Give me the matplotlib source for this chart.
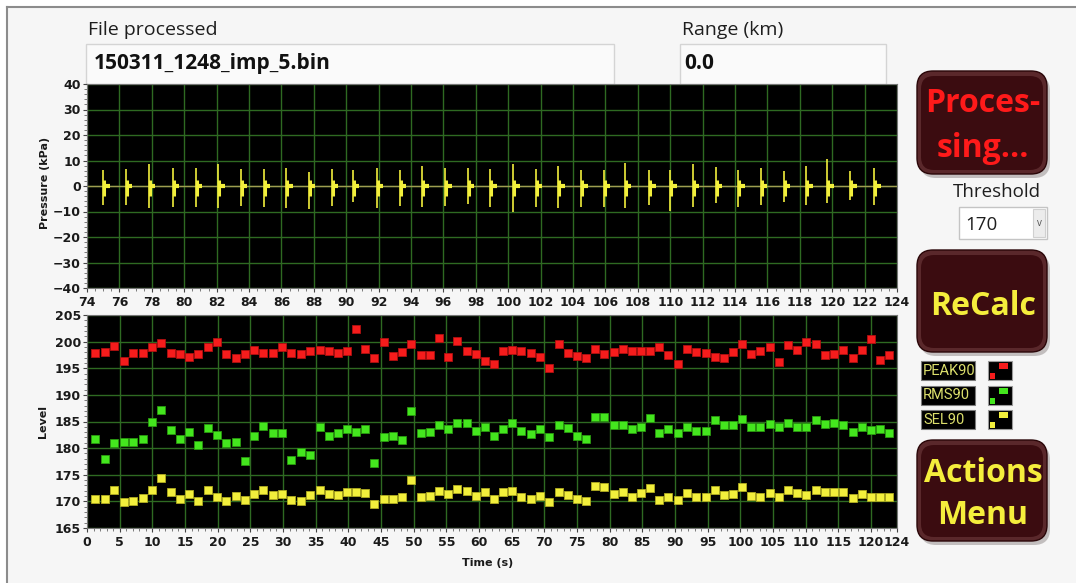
import matplotlib
matplotlib.use('Agg')
import matplotlib.pyplot as plt
from matplotlib.patches import FancyBboxPatch, Rectangle
from matplotlib.ticker import MultipleLocator, FixedLocator

# waveform window: pulse times (s) and peak extents (kPa)
pulse_t = [75.0, 76.4, 77.8, 79.3, 80.7, 82.1, 83.5, 84.9, 86.3, 87.7,
           89.1, 90.4, 91.9, 93.3, 94.7, 96.1, 97.5, 98.9, 100.3, 101.7,
           103.1, 104.5, 105.9, 107.2, 108.7, 110.0, 111.4, 112.8, 114.2, 115.6,
           117.0, 118.4, 119.7, 121.1, 122.6]
pulse_hi = [6.4, 6.8, 8.7, 7.2, 7.2, 8.8, 6.8, 6.8, 7.2, 5.3,
            6.6, 6.2, 7.2, 6.4, 7.9, 6.9, 7.2, 6.5, 8.8, 6.8,
            7.9, 6.4, 6.2, 9.0, 6.4, 6.4, 8.8, 7.5, 6.4, 7.2,
            5.9, 7.9, 10.5, 5.9, 7.2]
pulse_lo = [-7.5, -7.5, -8.5, -8.1, -8.1, -8.8, -7.9, -8.1, -8.5, -9.0,
            -7.7, -6.2, -8.8, -7.9, -8.1, -7.7, -7.1, -8.1, -10.0, -8.1,
            -8.5, -8.1, -8.1, -8.8, -7.5, -9.7, -8.1, -6.8, -8.1, -7.5,
            -6.2, -7.5, -6.8, -5.5, -7.5]

# levels per pulse over the whole file
t_level = [1.3, 2.8, 4.2, 5.6, 7.0, 8.5, 9.9, 11.3, 12.8, 14.2,
           15.6, 17.0, 18.5, 19.9, 21.3, 22.8, 24.2, 25.6, 27.0, 28.5,
           29.9, 31.3, 32.7, 34.2, 35.6, 37.0, 38.4, 39.8, 41.2, 42.6,
           44.0, 45.4, 46.8, 48.2, 49.6, 51.1, 52.5, 53.9, 55.3, 56.7,
           58.1, 59.5, 60.9, 62.3, 63.7, 65.1, 66.5, 67.9, 69.3, 70.7,
           72.2, 73.6, 75.0, 76.4, 77.8, 79.2, 80.6, 82.0, 83.4, 84.8,
           86.2, 87.6, 89.0, 90.4, 91.9, 93.3, 94.7, 96.1, 97.5, 98.9,
           100.3, 101.7, 103.1, 104.5, 105.9, 107.3, 108.7, 110.1, 111.6, 113.0,
           114.4, 115.8, 117.2, 118.6, 120.0, 121.4, 122.8]
peak90 = [197.9, 198.0, 199.1, 196.4, 197.9, 197.9, 198.9, 199.8, 197.8, 197.7,
          197.2, 197.6, 198.9, 200.0, 197.7, 196.9, 197.6, 198.4, 197.9, 197.8,
          198.9, 197.8, 197.7, 198.3, 198.4, 198.3,
          197.9, 198.25, 202.3, 198.6, 197.0, 199.9, 197.3, 198.0, 199.5, 197.4,
          197.4, 200.6, 197.1, 200.2, 198.25, 197.7, 196.4, 195.8, 198.25, 198.4,
          198.25, 197.9, 197.2, 195.0, 199.6, 197.8, 197.3, 197.0, 198.6, 197.7,
          198.0, 198.6, 198.3, 198.3, 198.3, 198.9, 197.5, 195.75, 198.6, 198.0,
          197.9, 197.2, 196.9, 198.0, 199.5, 197.7, 198.25, 198.9, 196.25, 199.4,
          198.4, 199.9, 199.5, 197.5, 197.7, 198.4, 196.9, 198.4, 200.5, 196.6,
          197.4]
rms90 = [181.8, 177.9, 180.9, 181.1, 181.1, 181.8, 185.0, 187.1, 183.4, 181.8,
         183.1, 180.6, 183.7, 182.4, 180.9, 181.1, 177.6,
         182.2, 184.2, 182.8, 182.8, 177.8, 179.2, 178.7, 183.9, 182.3,
         182.9, 183.6, 183.1, 183.6, 177.2, 182.0, 182.2, 181.6, 186.9, 182.8,
         183.0, 184.4, 183.6, 184.7, 184.7, 183.25, 183.9, 182.3, 183.6, 184.8,
         183.25, 182.7, 183.6, 182.0, 184.4, 183.75, 182.3, 181.7, 185.9, 185.8,
         184.25, 184.4, 183.6, 183.9, 185.6, 182.8, 183.6, 182.8, 183.9, 183.25,
         183.3, 185.2, 184.4, 184.4, 185.5, 183.9, 183.9, 184.5, 183.9, 184.7,
         183.9, 183.9, 185.3, 184.6, 184.8, 184.25, 183.1, 183.9, 183.4, 183.6,
         182.8]
sel90 = [170.5, 170.4, 172.1, 169.9, 170.0, 170.7, 172.2, 174.4, 171.7, 170.5,
         171.4, 170.1, 172.2, 170.9, 170.1, 171.1, 170.3, 171.4, 172.1, 171.25,
         171.4, 170.3, 170.1, 171.25, 172.2, 171.4,
         171.25, 171.7, 171.7, 171.6, 169.6, 170.4, 170.4, 170.75, 174.1, 170.9,
         171.1, 172.0, 171.4, 172.4, 172.0, 171.1, 171.7, 170.5, 171.7, 172.0,
         170.75, 170.5, 171.1, 169.9, 171.75, 171.25, 170.5, 170.0, 172.9, 172.7,
         171.4, 171.75, 170.8, 171.6, 172.6, 170.3, 170.8, 170.3, 171.6, 170.8,
         170.8, 172.1, 171.25, 171.4, 172.7, 171.1, 170.9, 171.6, 170.9, 172.1,
         171.6, 171.25, 172.1, 171.7, 171.75, 171.7, 170.6, 171.4, 170.9, 170.9,
         170.8]

file_name = '150311_1248_imp_5.bin'
range_km = '0.0'
threshold = '170'
legend_names = ['PEAK90', 'RMS90', 'SEL90']

RED = '#f51c1c'
GREEN = '#44e61e'
YELLOW = '#f2ef3c'
GRID = '#2e6a22'
BTN = '#3b0c10'

W, H = 1076, 583
plt.rcParams['font.family'] = 'DejaVu Sans'
plt.rcParams['font.weight'] = 'bold'

fig = plt.figure(figsize=(W / 100, H / 100), dpi=100)
fig.patch.set_facecolor('#f6f6f6')

# pixel-space background layer for the panel controls
bg = fig.add_axes([0, 0, 1, 1], zorder=-1)
bg.set_xlim(0, W)
bg.set_ylim(H, 0)
bg.axis('off')


def px_axes(x0, y0, x1, y1):
    return fig.add_axes([x0 / W, 1 - y1 / H, (x1 - x0) / W, (y1 - y0) / H])


# window frame
bg.add_patch(Rectangle((0, 0), W, 6, fc='white', ec='none'))
bg.add_patch(Rectangle((0, 0), 6, H, fc='white', ec='none'))
bg.plot([6.5, W], [6.5, 6.5], color='#8c8c8c', lw=1.5)
bg.plot([6.5, 6.5], [6.5, H], color='#8c8c8c', lw=1.5)

# text indicators
sans = 'Open Sans'
bg.text(88, 35, 'File processed', family=sans, fontsize=14, fontweight='normal',
        color='#1e1e1e', va='baseline')
bg.add_patch(Rectangle((86, 43.5), 528, 40, fc='#fafafa', ec='#d4d4d4', lw=1))
bg.text(94, 69, file_name, family=sans, fontsize=15, fontweight='bold',
        color='#111111', va='baseline')
bg.text(682, 35, 'Range (km)', family=sans, fontsize=14, fontweight='normal',
        color='#1e1e1e', va='baseline')
bg.add_patch(Rectangle((680, 43.5), 206, 40, fc='#fafafa', ec='#d4d4d4', lw=1))
bg.text(684, 69, range_km, family=sans, fontsize=15, fontweight='bold',
        color='#111111', va='baseline')


def button(x0, y0, x1, y1):
    w, h = x1 - x0, y1 - y0
    bg.add_patch(FancyBboxPatch((x0 + 3, y0 + 4), w, h,
                                boxstyle='round,pad=0,rounding_size=16',
                                fc='#a09a9a', ec='none', alpha=0.6))
    bg.add_patch(FancyBboxPatch((x0, y0), w, h,
                                boxstyle='round,pad=0,rounding_size=16',
                                fc='#5a282b', ec='#2a0608', lw=1))
    bg.add_patch(FancyBboxPatch((x0 + 4, y0 + 5), w - 8, h - 9,
                                boxstyle='round,pad=0,rounding_size=13',
                                fc=BTN, ec='none'))


button(917, 71, 1047, 174)
bg.text(983, 112, 'Proces-', family=sans, fontsize=23, fontweight='bold',
        color='#ff1a1a', ha='center', va='baseline')
bg.text(983, 157, 'sing...', family=sans, fontsize=23, fontweight='bold',
        color='#ff1a1a', ha='center', va='baseline')

bg.text(997, 197, 'Threshold', family=sans, fontsize=13.5, fontweight='normal',
        color='#1e1e1e', ha='center', va='baseline')
bg.add_patch(Rectangle((959, 207), 88, 32, fc='white', ec='#c4c4c4', lw=1))
bg.add_patch(Rectangle((1033, 209), 12, 28, fc='#ececec', ec='#d0d0d0', lw=0.8))
bg.text(1039, 223, 'v', family=sans, fontsize=7, fontweight='normal',
        color='#555555', ha='center', va='center')
bg.text(965, 230, threshold, family=sans, fontsize=13.5, fontweight='normal',
        color='#1e1e1e', va='baseline')

button(917, 250, 1047, 352)
bg.text(983, 315, 'ReCalc', family=sans, fontsize=23, fontweight='bold',
        color='#f5ee3c', ha='center', va='baseline')

button(917, 440, 1047, 541)
bg.text(983, 482, 'Actions', family=sans, fontsize=23, fontweight='bold',
        color='#f5ee3c', ha='center', va='baseline')
bg.text(983, 524, 'Menu', family=sans, fontsize=23, fontweight='bold',
        color='#f5ee3c', ha='center', va='baseline')

# plot legend
for i, (name, col) in enumerate(zip(legend_names, [RED, GREEN, YELLOW])):
    y0 = 361 + i * 24.5
    bg.add_patch(Rectangle((921, y0), 54, 19, fc='black', ec='#7a7a7a', lw=0.8))
    bg.text(923, y0 + 9.8, name, family='Roboto', fontsize=10.5, fontweight='normal',
            color='#dcdf6c', va='center')
    bg.add_patch(Rectangle((988, y0), 24, 19, fc='black', ec='#9a9a9a', lw=0.8))
    bg.add_patch(Rectangle((999, y0 + 2), 9, 6, fc=col, ec='none'))
    bg.add_patch(Rectangle((990, y0 + 12), 5, 6, fc=col, ec='none'))


def style_axes(ax):
    ax.set_facecolor('black')
    ax.grid(True, which='major', color=GRID, lw=1)
    ax.set_axisbelow(True)
    for s in ax.spines.values():
        s.set_color('#777777')
        s.set_linewidth(0.8)
    ax.tick_params(which='major', length=3, width=0.8, color='#444444',
                   labelsize=9, labelcolor='#1a1a1a')
    ax.tick_params(which='minor', length=2, width=0.6, color='#666666')
    ax.tick_params(axis='x', pad=3)
    ax.tick_params(axis='y', pad=1.5)


# pressure waveform
ax1 = px_axes(87, 84, 897, 288)
style_axes(ax1)
ax1.set_xlim(74, 124)
ax1.set_ylim(-40, 40)
ax1.xaxis.set_major_locator(MultipleLocator(2))
ax1.xaxis.set_minor_locator(MultipleLocator(0.5))
ax1.yaxis.set_major_locator(MultipleLocator(10))
ax1.yaxis.set_minor_locator(MultipleLocator(2))
ax1.axhline(0, color='#a09c50', lw=1.0, zorder=2)
ax1.vlines(pulse_t, pulse_lo, pulse_hi, color=YELLOW, lw=1.2, zorder=3)
ax1.vlines([t + 0.06 for t in pulse_t], -4, 2.5, color=YELLOW, lw=2.2, zorder=3)
ax1.hlines([0] * len(pulse_t), pulse_t, [t + 0.4 for t in pulse_t],
           color=YELLOW, lw=3.0, zorder=3)
fig.text(45 / W, 1 - 183 / H, 'Pressure (kPa)', rotation=90, fontsize=8,
         ha='center', va='center', color='#1a1a1a')

# level plot
ax2 = px_axes(87, 315, 897, 528)
style_axes(ax2)
ax2.set_xlim(0, 124)
ax2.set_ylim(165, 205)
ax2.xaxis.set_major_locator(FixedLocator(list(range(0, 121, 5)) + [124]))
ax2.xaxis.set_minor_locator(MultipleLocator(1))
ax2.yaxis.set_major_locator(MultipleLocator(5))
ax2.yaxis.set_minor_locator(MultipleLocator(1))
ms = 6.2
ax2.plot(t_level, peak90, 's', ms=ms, mfc=RED, mec='#b01010', mew=0.6, ls='none')
ax2.plot(t_level, rms90, 's', ms=ms, mfc=GREEN, mec='#2a9a10', mew=0.6, ls='none')
ax2.plot(t_level, sel90, 's', ms=ms, mfc=YELLOW, mec='#b0ac20', mew=0.6, ls='none')
fig.text(43 / W, 1 - 421 / H, 'Level', rotation=90, fontsize=8,
         ha='center', va='center', color='#1a1a1a')
fig.text(488 / W, 1 - 563 / H, 'Time (s)', fontsize=8,
         ha='center', va='center', color='#1a1a1a')

fig.savefig('out.png', dpi=100, facecolor=fig.get_facecolor())
